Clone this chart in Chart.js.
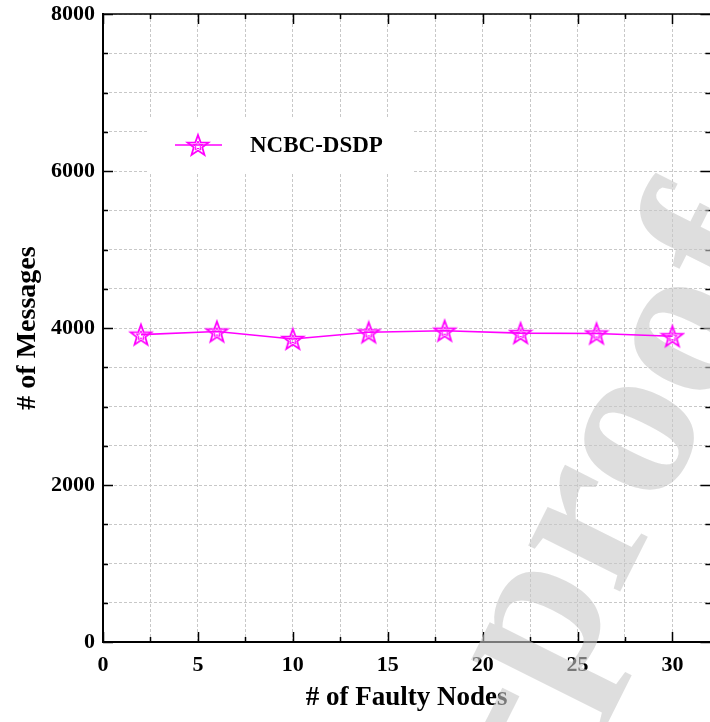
<!DOCTYPE html>
<html>
<head>
<meta charset="utf-8">
<script src="https://cdn.jsdelivr.net/npm/chart.js@4.4.0/dist/chart.umd.min.js"></script>
<style>
html, body { margin: 0; padding: 0; background: #fff; overflow: hidden; }
#wrap { position: relative; width: 716px; height: 722px; }
</style>
</head>
<body>
<div id="wrap"><canvas id="myChart"></canvas></div>
<script>
// values
const faultyNodes = [2, 6, 10, 14, 18, 22, 26, 30];
const messages = [3915, 3955, 3860, 3945, 3965, 3935, 3930, 3895];
const seriesName = "NCBC-DSDP";
const xTickLabels = [0, 5, 10, 15, 20, 25, 30];
const yTickLabels = [0, 2000, 4000, 6000, 8000];

const FONT = "'Liberation Serif', 'Times New Roman', serif";
const MAGENTA = "#ff00ff";

// hollow pentagram marker, drawn once and reused
const makeStar = (size) => {
    const c = document.createElement("canvas");
    c.width = size;
    c.height = size;
    const g = c.getContext("2d");
    const drawStar = (R, r, lw) => {
        g.beginPath();
        for (let i = 0; i < 10; i++) {
            const rad = i % 2 === 0 ? R : r;
            const a = -Math.PI / 2 + i * Math.PI / 5;
            const px = size / 2 + rad * Math.cos(a);
            const py = size / 2 + 1 + rad * Math.sin(a);
            if (i === 0) g.moveTo(px, py); else g.lineTo(px, py);
        }
        g.closePath();
        g.lineWidth = lw;
        g.strokeStyle = MAGENTA;
        g.stroke();
    };
    drawStar(11, 4.5, 1.8);
    drawStar(5, 2.2, 1);
    return c;
};
const starImg = makeStar(26);

const framePlugin = {
    id: "frame",
    beforeDatasetsDraw(chart) {
        const ctx = chart.ctx;
        const {left, right, top, bottom} = chart.chartArea;
        const xs = chart.scales.x;
        const ys = chart.scales.y;
        ctx.save();
        ctx.strokeStyle = "#000";
        ctx.lineWidth = 1.5;
        ctx.beginPath();
        ctx.moveTo(left, top);
        ctx.lineTo(right, top);
        // inward ticks on all four sides
        for (let v = 0; v <= xs.max; v += 2.5) {
            const px = Math.round(xs.getPixelForValue(v)) + 0.5;
            const len = v % 5 === 0 ? 10 : 5;
            ctx.moveTo(px, bottom);
            ctx.lineTo(px, bottom - len);
            ctx.moveTo(px, top);
            ctx.lineTo(px, top + len);
        }
        for (let v = 0; v <= ys.max; v += 500) {
            const py = Math.round(ys.getPixelForValue(v)) + 0.5;
            const len = v % 2000 === 0 ? 10 : 5;
            ctx.moveTo(left, py);
            ctx.lineTo(left + len, py);
            ctx.moveTo(right, py);
            ctx.lineTo(right - len, py);
        }
        ctx.stroke();

        // "Journal Pre-proof" watermark
        ctx.font = "bold 224px " + FONT;
        ctx.fillStyle = "rgba(200,200,200,0.6)";
        ctx.textBaseline = "alphabetic";
        ctx.translate(662, 508);
        ctx.rotate(-63.4 * Math.PI / 180);
        const lead = ctx.measureText("Journal Pre-pr").width;
        ctx.fillText("Journal Pre-proof", -lead, 0);
        ctx.restore();
    },
    afterDatasetsDraw(chart) {
        const ctx = chart.ctx;
        ctx.save();
        ctx.fillStyle = "#fff";
        ctx.fillRect(147, 118, 266, 54);
        ctx.strokeStyle = MAGENTA;
        ctx.lineWidth = 1.5;
        ctx.beginPath();
        ctx.moveTo(175, 145);
        ctx.lineTo(222, 145);
        ctx.stroke();
        ctx.drawImage(starImg, 198 - 13, 145 - 13);
        ctx.fillStyle = "#000";
        ctx.font = "bold 23px " + FONT;
        ctx.textBaseline = "middle";
        ctx.fillText(seriesName, 250, 146);
        ctx.restore();
    }
};

const ctx = document.getElementById("myChart").getContext("2d");
const myChart = new Chart(ctx, {
    type: "line",
    data: {
        datasets: [{
            label: seriesName,
            data: faultyNodes.map((x, i) => ({x: x, y: messages[i]})),
            borderColor: MAGENTA,
            borderWidth: 1.6,
            pointStyle: starImg,
            tension: 0,
            fill: false
        }]
    },
    options: {
        responsive: true,
        maintainAspectRatio: false,
        animation: false,
        devicePixelRatio: 1,
        layout: {padding: {top: 14, right: 0, left: 0, bottom: 0}},
        plugins: {legend: {display: false}, tooltip: {enabled: false}},
        scales: {
            x: {
                type: "linear",
                min: 0,
                max: 32,
                afterFit: (s) => { s.height = 80; s.paddingRight = 0; },
                ticks: {
                    stepSize: 2.5,
                    includeBounds: false,
                    autoSkip: false,
                    maxRotation: 0,
                    padding: 10,
                    color: "#000",
                    font: {family: FONT, size: 22, weight: "bold"},
                    callback: (v) => xTickLabels.includes(v) ? String(v) : ""
                },
                grid: {color: "#c8c8c8", lineWidth: 1, drawTicks: false},
                border: {display: true, color: "#000", width: 2, dash: [3, 2]},
                title: {
                    display: true,
                    text: "# of Faulty Nodes",
                    color: "#000",
                    font: {family: FONT, size: 27, weight: "bold"},
                    padding: {top: 0, bottom: 8}
                }
            },
            y: {
                type: "linear",
                min: 0,
                max: 8000,
                afterFit: (s) => { s.width = 103; s.paddingTop = 0; s.paddingBottom = 0; },
                ticks: {
                    stepSize: 500,
                    autoSkip: false,
                    padding: 8,
                    color: "#000",
                    font: {family: FONT, size: 22, weight: "bold"},
                    callback: (v) => yTickLabels.includes(v) ? String(v) : ""
                },
                grid: {color: "#c8c8c8", lineWidth: 1, drawTicks: false},
                border: {display: true, color: "#000", width: 2, dash: [3, 2]},
                title: {
                    display: true,
                    text: "# of Messages",
                    color: "#000",
                    font: {family: FONT, size: 28, weight: "bold"},
                    padding: {top: 11, bottom: 0}
                }
            }
        }
    },
    plugins: [framePlugin]
});
</script>
</body>
</html>
